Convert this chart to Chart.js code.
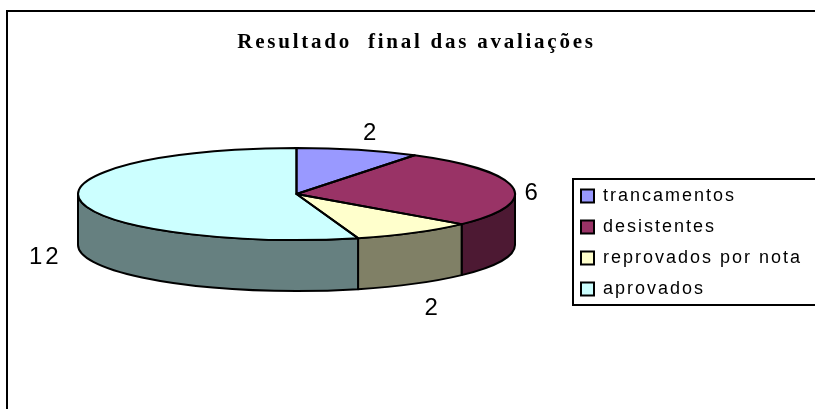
<!DOCTYPE html>
<html>
<head>
<meta charset="utf-8">
<style>html,body{margin:0;padding:0;background:#fff}canvas{display:block}</style>
<script src="https://cdn.jsdelivr.net/npm/chart.js@4"></script>
</head>
<body>
<canvas id="c" width="815" height="409"></canvas>
<script>
const categories = ['trancamentos', 'desistentes', 'reprovados por nota', 'aprovados'];
const values = [2, 6, 2, 12];
const topColors = ['#9999FF', '#993366', '#FFFFCC', '#CCFFFF'];
const wallColors = ['#4D4D80', '#4D1933', '#808066', '#668080'];
const titleText = 'Resultado  final das avaliações';

const squash = 46 / 218.5;   // tilt of the pie
const depth = 51;            // height of the pie wall
const labelOffsets = [[13, -16], [20, 6], [18, 76], [-35, 57]];

function spaced(box, spacing) {
  const draw = box.draw;
  box.draw = function (a) {
    const ctx = this.ctx;
    ctx.save();
    ctx.letterSpacing = spacing;
    draw.call(this, a);
    ctx.restore();
  };
}

const pie3d = {
  id: 'pie3d',
  afterLayout(chart) {
    const t = chart.titleBlock, l = chart.legend;
    t.left = 0; t.right = 833; t.top = 32.5; t.bottom = 54;
    const h = l.height;
    l.left = 568; l.top = 174; l.bottom = 174 + h + 20; l.right = 815;
    if (!chart.$spaced) {
      chart.$spaced = true;
      spaced(t, '2.75px');
      spaced(l, '2px');
    }
  },
  beforeDraw(chart) {
    const ctx = chart.ctx;
    ctx.save();
    ctx.strokeStyle = '#000';
    ctx.lineWidth = 2;
    ctx.beginPath();
    ctx.moveTo(7, 409); ctx.lineTo(7, 11); ctx.lineTo(815, 11);
    ctx.stroke();
    ctx.beginPath();
    ctx.moveTo(815, 179); ctx.lineTo(573, 179); ctx.lineTo(573, 305); ctx.lineTo(815, 305);
    ctx.stroke();
    ctx.restore();
  },
  beforeDatasetDraw(chart, args) {
    const ctx = chart.ctx, arcs = args.meta.data;
    const p0 = arcs[0], cx = p0.x, cy = p0.y, rx = p0.outerRadius, ry = rx * squash;
    ctx.save();
    ctx.lineWidth = 2;
    ctx.strokeStyle = '#000';
    ctx.lineJoin = 'round';
    // walls: the front part of each slice's outer edge
    arcs.forEach((a, i) => {
      const s = Math.max(a.startAngle, 0), e = Math.min(a.endAngle, Math.PI);
      if (e <= s) return;
      ctx.beginPath();
      ctx.ellipse(cx, cy, rx, ry, 0, s, e);
      ctx.ellipse(cx, cy + depth, rx, ry, 0, e, s, true);
      ctx.closePath();
      ctx.fillStyle = wallColors[i];
      ctx.fill();
      ctx.stroke();
    });
    // top faces: the library's own arcs, squashed
    ctx.save();
    ctx.translate(cx, cy); ctx.scale(1, squash); ctx.translate(-cx, -cy);
    arcs.forEach(a => a.draw(ctx));
    ctx.restore();
    arcs.forEach(a => {
      ctx.beginPath();
      ctx.moveTo(cx, cy);
      ctx.ellipse(cx, cy, rx, ry, 0, a.startAngle, a.endAngle);
      ctx.closePath();
      ctx.stroke();
    });
    // value labels
    ctx.fillStyle = '#000';
    ctx.font = '24px "Liberation Sans", Arial, sans-serif';
    ctx.textAlign = 'center';
    ctx.textBaseline = 'middle';
    ctx.letterSpacing = '3px';
    arcs.forEach((a, i) => {
      const m = (a.startAngle + a.endAngle) / 2;
      ctx.fillText(String(values[i]),
        cx + rx * Math.cos(m) + labelOffsets[i][0],
        cy + ry * Math.sin(m) + labelOffsets[i][1]);
    });
    ctx.restore();
    return false;
  }
};

new Chart(document.getElementById('c'), {
  type: 'pie',
  data: {
    labels: categories,
    datasets: [{ data: values, backgroundColor: topColors, borderWidth: 0, radius: 218.5 }]
  },
  plugins: [pie3d],
  options: {
    responsive: false,
    animation: false,
    events: [],
    layout: { padding: { left: 78, right: 300, top: 0, bottom: 42 } },
    plugins: {
      tooltip: { enabled: false },
      title: {
        display: true, text: titleText, color: '#000', padding: 0,
        font: { family: '"Liberation Serif", "Times New Roman", serif', size: 21, weight: 'bold', lineHeight: 1 }
      },
      legend: {
        display: true, position: 'chartArea', align: 'start',
        labels: {
          color: '#000', boxWidth: 13, boxHeight: 13, padding: 13,
          font: { family: '"Liberation Sans", Arial, sans-serif', size: 18, lineHeight: 1.2 },
          generateLabels(chart) {
            return categories.map((c, i) => ({
              text: c, fillStyle: topColors[i], strokeStyle: '#000', lineWidth: 2, index: i, hidden: false
            }));
          }
        }
      }
    }
  }
});
</script>
</body>
</html>
